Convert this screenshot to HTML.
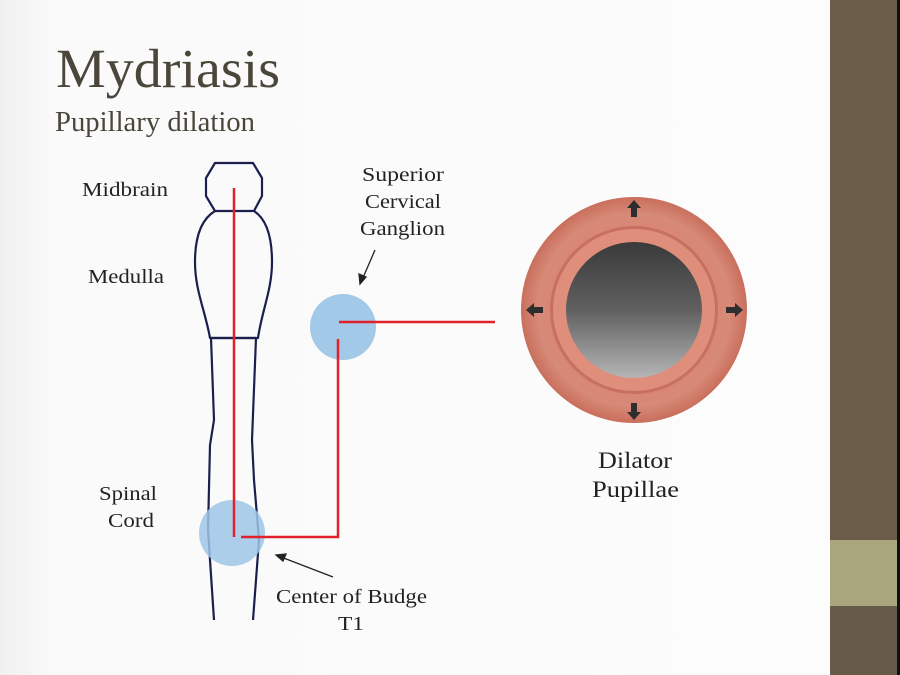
<!DOCTYPE html>
<html><head><meta charset="utf-8"><style>
html,body{margin:0;padding:0;width:900px;height:675px;overflow:hidden;background:#fff}
</style></head><body>
<svg width="900" height="675" viewBox="0 0 900 675" xmlns="http://www.w3.org/2000/svg">
<defs>
<linearGradient id="bg" x1="0" y1="0" x2="1" y2="0">
<stop offset="0" stop-color="#f0f0f0"/><stop offset="0.06" stop-color="#fafafa"/><stop offset="1" stop-color="#fcfcfc"/>
</linearGradient>
<radialGradient id="iris" cx="0.5" cy="0.5" r="0.5">
<stop offset="0.6" stop-color="#d9826f"/><stop offset="0.85" stop-color="#d78a78"/><stop offset="1" stop-color="#c96f5c"/>
</radialGradient>
<linearGradient id="pupil" x1="0" y1="0" x2="0" y2="1">
<stop offset="0" stop-color="#3a3a3a"/><stop offset="0.5" stop-color="#606060"/><stop offset="1" stop-color="#b5b5b5"/>
</linearGradient>
</defs>
<rect width="900" height="675" fill="url(#bg)"/>
<rect x="830" y="0" width="67" height="675" fill="#6b5d4a"/>
<rect x="830" y="540" width="67" height="66" fill="#a9a57c"/>
<rect x="830" y="606" width="67" height="69" fill="#655b48"/>
<rect x="897" y="0" width="3" height="675" fill="#111"/>

<text x="56" y="87" font-family="Liberation Serif, serif" font-size="55" fill="#4a463a" textLength="224" lengthAdjust="spacingAndGlyphs">Mydriasis</text>
<text x="55" y="131" font-family="Liberation Serif, serif" font-size="28" fill="#4a463a" textLength="200" lengthAdjust="spacingAndGlyphs">Pupillary dilation</text>

<g font-family="Liberation Serif, serif" font-size="20" fill="#222">
<text x="82" y="196" textLength="86" lengthAdjust="spacingAndGlyphs">Midbrain</text>
<text x="88" y="283" textLength="76" lengthAdjust="spacingAndGlyphs">Medulla</text>
<text x="99" y="500" textLength="58" lengthAdjust="spacingAndGlyphs">Spinal</text>
<text x="108" y="527" textLength="46" lengthAdjust="spacingAndGlyphs">Cord</text>
<text x="362" y="181" textLength="82" lengthAdjust="spacingAndGlyphs">Superior</text>
<text x="365" y="208" textLength="76" lengthAdjust="spacingAndGlyphs">Cervical</text>
<text x="360" y="235" textLength="85" lengthAdjust="spacingAndGlyphs">Ganglion</text>
<text x="276" y="603" textLength="151" lengthAdjust="spacingAndGlyphs">Center of Budge</text>
<text x="338" y="630" textLength="26" lengthAdjust="spacingAndGlyphs">T1</text>
</g>
<g font-family="Liberation Serif, serif" font-size="23" fill="#222">
<text x="598" y="468" textLength="74" lengthAdjust="spacingAndGlyphs">Dilator</text>
<text x="592" y="497" textLength="87" lengthAdjust="spacingAndGlyphs">Pupillae</text>
</g>

<g fill="none" stroke="#1a1f4e" stroke-width="2.2" stroke-linejoin="round">
<path d="M215,163 L253,163 L262,178 L262,196 L254,211 L215,211 L206,196 L206,178 Z"/>
<path d="M215,211 C200,220 195,240 195,262 C195,290 205,310 210,338 L258,338 C262,310 272,290 272,262 C272,240 268,220 254,211"/>
<path d="M210,338 L256,338"/>
<path d="M211,338 L214,420 L210,445 L208,530 L214,620"/>
<path d="M256,338 L252,440 L254,480 L259,540 L253,620"/>
</g>

<circle cx="343" cy="327" r="33" fill="#9ec6e8" opacity="0.95"/>
<circle cx="232" cy="533" r="33" fill="#9ec6e8" opacity="0.85"/>

<g stroke="#e0202a" stroke-width="2.5" fill="none">
<path d="M234,188 L234,537"/>
<path d="M241,537 L338,537 L338,339"/>
<path d="M339,322 L495,322"/>
</g>

<g stroke="#222" stroke-width="1.3" fill="#222">
<line x1="375" y1="250" x2="362" y2="280"/>
<path d="M360,284 L359,274 L366,277 Z"/>
<line x1="333" y1="577" x2="281" y2="557"/>
<path d="M276,555 L286,554 L283,561 Z"/>
</g>

<circle cx="634" cy="310" r="113" fill="url(#iris)"/>
<circle cx="634" cy="310" r="84" fill="#c7705f"/>
<circle cx="634" cy="310" r="81" fill="#de8e7b"/>
<circle cx="634" cy="310" r="68" fill="url(#pupil)"/>
<g fill="#2e2e2e">
<path d="M634,200 L641,208 L637,208 L637,217 L631,217 L631,208 L627,208 Z"/>
<path d="M634,420 L641,412 L637,412 L637,403 L631,403 L631,412 L627,412 Z"/>
<path d="M526,310 L534,303 L534,307 L543,307 L543,313 L534,313 L534,317 Z"/>
<path d="M743,310 L735,303 L735,307 L726,307 L726,313 L735,313 L735,317 Z"/>
</g>
</svg>
</body></html>
